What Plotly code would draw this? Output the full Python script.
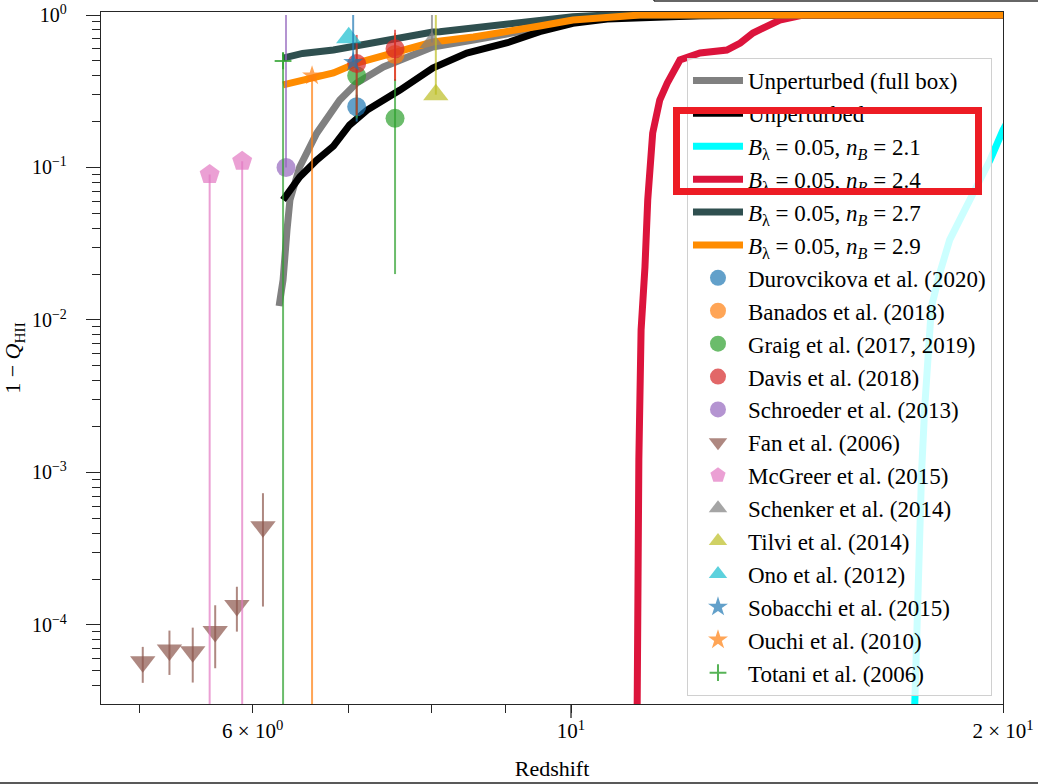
import plotly.graph_objects as go

# ---- model curves: neutral fraction 1 - Q_HII versus redshift ----
z_full_box = [6.26, 6.30, 6.34, 6.37, 6.47, 6.65, 6.90, 7.09, 7.40, 7.81, 8.01, 8.55, 9.03, 9.51, 10.03, 10.60, 11.17, 12.30, 20.0]
q_full_box = [0.01236, 0.0183, 0.0389, 0.0612, 0.1007, 0.168, 0.277, 0.358, 0.456, 0.563, 0.617, 0.686, 0.750, 0.822, 0.900, 0.956, 0.978, 0.99, 1.0]

z_unpert = [6.30, 6.47, 6.65, 6.83, 7.01, 7.21, 7.60, 8.01, 8.46, 9.03, 9.51, 10.03, 10.60, 11.17, 11.78, 12.30, 14.44, 20.0]
q_unpert = [0.0612, 0.0867, 0.112, 0.138, 0.190, 0.238, 0.322, 0.449, 0.563, 0.658, 0.777, 0.882, 0.942, 0.966, 0.975, 0.99, 1.0, 1.0]

z_nb21 = [17.30, 17.35, 17.41, 17.50, 17.55, 17.64, 17.74, 17.83, 18.07, 18.36, 18.81, 19.16, 19.59, 20.0, 20.39]
q_nb21 = [1e-5, 2.86e-5, 5.07e-5, 4.89e-4, 9.93e-4, 2.69e-3, 7.40e-3, 0.01217, 0.0203, 0.0335, 0.0527, 0.0745, 0.112, 0.176, 0.245]

z_nb24 = [11.10, 11.12, 11.15, 11.19, 11.26, 11.31, 11.40, 11.53, 11.67, 11.91, 12.30, 12.84, 13.12, 13.39, 13.98, 14.51, 20.0]
q_nb24 = [1e-5, 3.03e-5, 1.21e-3, 8.6e-3, 0.0223, 0.0612, 0.168, 0.277, 0.358, 0.507, 0.563, 0.589, 0.655, 0.762, 0.927, 1.0, 1.0]

z_nb27 = [6.30, 6.50, 6.83, 7.60, 8.01, 8.10, 9.03, 10.03, 10.60, 20.0]
q_nb27 = [0.522, 0.560, 0.589, 0.717, 0.774, 0.777, 0.882, 0.975, 1.0, 1.0]

z_nb29 = [6.30, 6.83, 7.09, 7.60, 8.01, 8.55, 9.03, 9.51, 10.03, 10.60, 11.17, 20.0]
q_nb29 = [0.348, 0.417, 0.484, 0.589, 0.665, 0.717, 0.774, 0.847, 0.927, 0.975, 1.0, 1.0]

# ---- observational constraints: (z, value, +err, -err) ----
durov_z, durov_q, durov_up, durov_lo = [7.09], [0.25], [0.05], [0.05]
banados_z, banados_q, banados_up, banados_lo = [7.54], [0.55], [0.21], [0.18]
greig_z, greig_q, greig_up, greig_lo = [7.09, 7.54], [0.40, 0.21], [0.21, 0.17], [0.19, 0.19]
davis_z, davis_q, davis_up, davis_lo = [7.09, 7.54], [0.48, 0.60], [0.26, 0.20], [0.26, 0.23]
schroeder_z, schroeder_q, schroeder_up, schroeder_lo = [6.33], [0.10], [0.90], [0.0]
fan_z = [5.03, 5.25, 5.45, 5.65, 5.85, 6.10]
fan_q = [5.74e-5, 6.86e-5, 6.68e-5, 9.04e-5, 1.34e-4, 4.41e-4]
fan_up = [1.44e-5, 2.32e-5, 2.92e-5, 4.42e-5, 4.40e-5, 2.90e-4]
fan_lo = [1.57e-5, 2.16e-5, 2.49e-5, 3.84e-5, 4.36e-5, 3.09e-4]
mcgreer_z, mcgreer_q, mcgreer_up, mcgreer_lo = [5.6, 5.9], [0.09, 0.11], [0.0, 0.0], [0.09, 0.11]
schenker_z, schenker_q, schenker_up, schenker_lo = [8.0], [0.66], [0.34], [0.0]
tilvi_z, tilvi_q, tilvi_up, tilvi_lo = [8.05], [0.30], [0.70], [0.0]
ono_z, ono_q = [7.0], [0.71]
sobacchi_z, sobacchi_q, sobacchi_up, sobacchi_lo = [7.05], [0.49], [0.51], [0.0]
ouchi_z, ouchi_q, ouchi_up, ouchi_lo = [6.6], [0.40], [0.0], [0.40]
totani_z, totani_q, totani_up, totani_lo = [6.3], [0.50], [0.07], [0.50]

# axis tick labels
x_tick_vals = [6, 10, 20]
x_tick_text = ["6 × 10<sup>0</sup>", "10<sup>1</sup>", "2 × 10<sup>1</sup>"]
y_tick_vals = [1, 0.1, 0.01, 0.001, 0.0001]
y_tick_text = ["10<sup>0</sup>", "10<sup>−1</sup>", "10<sup>−2</sup>", "10<sup>−3</sup>", "10<sup>−4</sup>"]

FONT = "Liberation Serif"
AXIS_COLOR = "#262626"

fig = go.Figure()

curves = [
    ("Unperturbed (full box)", z_full_box, q_full_box, "#808080"),
    ("Unperturbed", z_unpert, q_unpert, "#000000"),
    ("<i>B</i><sub>λ</sub> = 0.05, <i>n</i><sub><i>B</i></sub> = 2.1", z_nb21, q_nb21, "#00FFFF"),
    ("<i>B</i><sub>λ</sub> = 0.05, <i>n</i><sub><i>B</i></sub> = 2.4", z_nb24, q_nb24, "#DC143C"),
    ("<i>B</i><sub>λ</sub> = 0.05, <i>n</i><sub><i>B</i></sub> = 2.7", z_nb27, q_nb27, "#2F4F4F"),
    ("<i>B</i><sub>λ</sub> = 0.05, <i>n</i><sub><i>B</i></sub> = 2.9", z_nb29, q_nb29, "#FF8C00"),
]
for i, (name, zz, qq, col) in enumerate(curves):
    fig.add_trace(go.Scatter(
        x=zz, y=qq, mode="lines", name=name, legendgroup=f"c{i}",
        line=dict(color=col, width=7),
    ))


def rgba(hex_col, a):
    h = hex_col.lstrip("#")
    return f"rgba({int(h[0:2], 16)},{int(h[2:4], 16)},{int(h[4:6], 16)},{a})"


def add_points(name, zz, qq, up, lo, col, symbol, size, group):
    err = None
    if up is not None:
        err = dict(type="data", symmetric=False, array=up, arrayminus=lo,
                   color=rgba(col, 0.7), thickness=2, width=0)
    marker = dict(symbol=symbol, size=size, color=rgba(col, 0.7),
                  line=dict(width=0))
    if symbol == "cross-thin":
        marker = dict(symbol=symbol, size=size, color=rgba(col, 0.8),
                      line=dict(width=2, color=rgba(col, 0.8)))
    fig.add_trace(go.Scatter(
        x=zz, y=qq, mode="markers", name=name, legendgroup=group,
        marker=marker, error_y=err,
    ))


add_points("Durovcikova et al. (2020)", durov_z, durov_q, durov_up, durov_lo, "#1f77b4", "circle", 19, "d1")
add_points("Banados et al. (2018)", banados_z, banados_q, banados_up, banados_lo, "#ff7f0e", "circle", 19, "d2")
add_points("Graig et al. (2017, 2019)", greig_z, greig_q, greig_up, greig_lo, "#2ca02c", "circle", 19, "d3")
add_points("Davis et al. (2018)", davis_z, davis_q, davis_up, davis_lo, "#d62728", "circle", 19, "d4")
add_points("Schroeder et al. (2013)", schroeder_z, schroeder_q, schroeder_up, schroeder_lo, "#9467bd", "circle", 19, "d5")
add_points("Fan et al. (2006)", fan_z, fan_q, fan_up, fan_lo, "#8c564b", "triangle-down", 22, "d6")
add_points("McGreer et al. (2015)", mcgreer_z, mcgreer_q, mcgreer_up, mcgreer_lo, "#e377c2", "pentagon", 21, "d7")
add_points("Schenker et al. (2014)", schenker_z, schenker_q, schenker_up, schenker_lo, "#7f7f7f", "triangle-up", 22, "d8")
add_points("Tilvi et al. (2014)", tilvi_z, tilvi_q, tilvi_up, tilvi_lo, "#bcbd22", "triangle-up", 22, "d9")
add_points("Ono et al. (2012)", ono_z, ono_q, None, None, "#17becf", "triangle-up", 22, "d10")
add_points("Sobacchi et al. (2015)", sobacchi_z, sobacchi_q, sobacchi_up, sobacchi_lo, "#1f77b4", "star", 15, "d11")
add_points("Ouchi et al. (2010)", ouchi_z, ouchi_q, ouchi_up, ouchi_lo, "#ff7f0e", "star", 15, "d12")
add_points("Totani et al. (2006)", totani_z, totani_q, totani_up, totani_lo, "#2ca02c", "cross-thin", 12, "d13")

y_minor = [m * 10.0 ** k for k in range(-5, 0) for m in range(2, 10)]

fig.update_layout(
    width=1038, height=784,
    margin=dict(l=101, r=35, t=12, b=80, autoexpand=False),
    paper_bgcolor="white", plot_bgcolor="white",
    font=dict(family=FONT, size=20, color="black"),
    showlegend=True,
    legend=dict(
        x=0.9878, xanchor="right", y=0.9335, yanchor="top",
        bgcolor="rgba(255,255,255,0.8)", bordercolor="#d0d0d0", borderwidth=1,
        font=dict(family=FONT, size=23, color="black"),
        tracegroupgap=0, itemwidth=50,
    ),
    xaxis=dict(
        type="log", range=[0.67247, 1.30103], automargin=False,
        showgrid=False, zeroline=False,
        showline=True, linecolor=AXIS_COLOR, linewidth=1.3, mirror=True,
        tickmode="array", tickvals=x_tick_vals, ticktext=x_tick_text,
        ticks="outside", ticklen=8, tickwidth=1.3, tickcolor=AXIS_COLOR,
        ticklabeloverflow="allow",
        tickfont=dict(family=FONT, size=21, color="black"),
        minor=dict(tickmode="array", tickvals=[5, 7, 8, 9], ticks="outside",
                   ticklen=8, tickwidth=1.3, tickcolor=AXIS_COLOR, showgrid=False),
        title=dict(text="Redshift", font=dict(family=FONT, size=22), standoff=18),
    ),
    yaxis=dict(
        type="log", range=[-4.5185, 0.0197], automargin=False,
        showgrid=False, zeroline=False,
        showline=True, linecolor=AXIS_COLOR, linewidth=1.3, mirror=True,
        tickmode="array", tickvals=y_tick_vals, ticktext=y_tick_text,
        ticks="outside", ticklen=14, tickwidth=1.3, tickcolor=AXIS_COLOR,
        ticklabelstandoff=15, ticklabeloverflow="allow",
        tickfont=dict(family=FONT, size=20, color="black"),
        minor=dict(tickmode="array", tickvals=y_minor, ticks="outside",
                   ticklen=8, tickwidth=1.3, tickcolor=AXIS_COLOR, showgrid=False),
        title=dict(text="1 − <i>Q</i><sub>HII</sub>", font=dict(family=FONT, size=22), standoff=12),
    ),
    shapes=[
        # longer major tick at 10^1
        dict(type="line", xref="x", x0=10, x1=10, yref="paper", ysizemode="pixel",
             yanchor=0, y0=0, y1=-14, line=dict(color=AXIS_COLOR, width=1.3)),
        # outer frame lines
        dict(type="line", xref="paper", yref="paper", x0=0.6131, x1=1.04, y0=1.0159, y1=1.0159,
             line=dict(color="#333333", width=1.5)),
        dict(type="line", xref="paper", yref="paper", x0=0.6131, x1=0.6131, y0=1.0159, y1=1.02,
             line=dict(color="#333333", width=1.5)),
        dict(type="line", xref="paper", yref="paper", x0=-0.12, x1=1.04, y0=-0.1142, y1=-0.1142,
             line=dict(color="#222222", width=1.5)),
    ],
    annotations=[
        # highlight box around the n_B = 2.1 / 2.4 legend entries
        dict(xref="paper", yref="paper", x=0.80543, y=0.79913, xanchor="center", yanchor="middle",
             text=" ", showarrow=False, width=295, height=74, borderpad=0,
             bordercolor="#ED1C24", borderwidth=7, bgcolor="rgba(0,0,0,0)"),
    ],
)

fig.write_html("out.html")
